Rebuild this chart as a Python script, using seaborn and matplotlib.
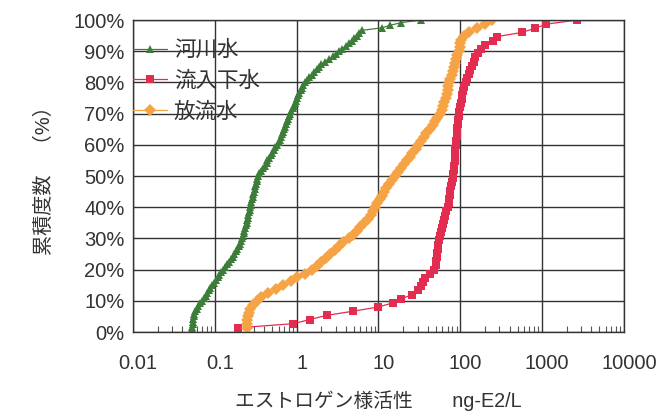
import numpy as np
import pandas as pd
import matplotlib
matplotlib.use("Agg")
import matplotlib.pyplot as plt
import matplotlib.transforms as mtransforms
from matplotlib.ticker import LogLocator, FuncFormatter, NullFormatter
import seaborn as sns

# sorted concentrations (ng-E2/L)
river = [0.052, 0.053, 0.054, 0.054, 0.054, 0.055, 0.056, 0.057, 0.060, 0.063,
         0.066, 0.069, 0.073, 0.077, 0.080, 0.084, 0.088, 0.092, 0.097, 0.102,
         0.108, 0.114, 0.120, 0.126, 0.134, 0.142, 0.150, 0.158, 0.165, 0.172,
         0.180, 0.187, 0.195, 0.202, 0.209, 0.215, 0.220, 0.225, 0.230, 0.235,
         0.240, 0.245, 0.249, 0.253, 0.257, 0.261, 0.266, 0.270, 0.275, 0.280,
         0.285, 0.290, 0.295, 0.300, 0.306, 0.312, 0.318, 0.324, 0.330, 0.337,
         0.35, 0.37, 0.39, 0.41, 0.43, 0.44, 0.46, 0.48, 0.50, 0.53,
         0.55, 0.575, 0.60, 0.62, 0.64, 0.66, 0.68, 0.70, 0.72, 0.74,
         0.76, 0.78, 0.81, 0.83, 0.86, 0.89, 0.92, 0.95, 0.98, 1.00,
         1.04, 1.08, 1.12, 1.16, 1.21, 1.26, 1.33, 1.42, 1.52, 1.62,
         1.75, 1.88, 2.0, 2.2, 2.5, 2.8, 3.0, 3.3, 3.6, 4.0,
         4.4, 4.7, 5.0, 5.4, 5.8, 6.2, 11, 14, 19, 33]

inflow = [0.19, 0.91, 1.45, 2.33, 4.9, 9.9, 15, 19, 26, 30,
          33, 35, 37, 42, 48, 50, 51, 51.5, 52, 53,
          54, 55.5, 57, 58.5, 60, 62, 63.5, 65, 67, 70,
          72, 73, 74, 75, 77, 79, 81, 82, 83, 84,
          85, 85.5, 86, 87, 88, 89, 90, 91, 92, 93,
          94, 95, 97, 99, 101, 104, 106, 108, 112, 117,
          122, 127, 133, 140, 146, 153, 165, 178, 200, 250,
          280, 560, 820, 1120, 2700]

effluent = [0.245, 0.247, 0.25, 0.255, 0.26, 0.267, 0.29, 0.33, 0.37, 0.45,
            0.56, 0.68, 0.85, 1.02, 1.25, 1.55, 1.75, 2.0, 2.3, 2.55,
            2.9, 3.25, 3.7, 4.3, 4.9, 5.4, 5.9, 6.6, 7.4, 8.0,
            8.6, 9.1, 9.7, 10.4, 11.1, 11.8, 12.5, 13.5, 14.7, 15.8,
            17.2, 19.0, 20.5, 22, 24, 26, 28.5, 30.5, 33, 35.5,
            38, 42, 46, 49, 52, 56, 59, 62, 64, 66,
            68, 70, 71.5, 73, 75, 78, 81, 84, 87, 89,
            92, 95, 98, 100, 102, 110, 128, 160, 200, 245]

series_names = ["河川水", "流入下水", "放流水"]
series_values = [river, inflow, effluent]
x_ticks = [0.01, 0.1, 1, 10, 100, 1000, 10000]
y_ticks = [0, 10, 20, 30, 40, 50, 60, 70, 80, 90, 100]

frames = []
for name, vals in zip(series_names, series_values):
    n = len(vals)
    frames.append(pd.DataFrame({
        "活性": vals,
        "累積度数": np.arange(1, n + 1) / n * 100,
        "地点": name,
    }))
df = pd.concat(frames, ignore_index=True)

sns.set_theme(style="white")
plt.rcParams["font.family"] = ["Liberation Sans", "Noto Sans CJK JP", "DejaVu Sans"]

palette = {"河川水": "#3d7d3a", "流入下水": "#e22c50", "放流水": "#f6a345"}
markers = {"河川水": "^", "流入下水": "s", "放流水": "D"}
txt = "#333333"

fig = plt.figure(figsize=(6.72, 4.12), dpi=100)
ax = fig.add_axes([133 / 672, 1 - 332 / 412, (624 - 133) / 672, (332 - 20) / 412])

sns.lineplot(data=df, x="活性", y="累積度数", hue="地点", style="地点",
             hue_order=series_names, style_order=series_names,
             palette=palette, markers=markers, dashes=False,
             estimator=None, sort=False, linewidth=0.9,
             markersize=5.8, markeredgewidth=0, ax=ax)

ax.set_xscale("log")
ax.set_xlim(0.01, 10000)
ax.set_ylim(0, 100)
ax.set_xticks(x_ticks)
ax.set_yticks(y_ticks)
ax.xaxis.set_major_formatter(FuncFormatter(lambda v, p: f"{v:g}"))
ax.yaxis.set_major_formatter(FuncFormatter(lambda v, p: f"{v:.0f}%"))
ax.xaxis.set_minor_locator(LogLocator(base=10, subs=np.arange(2, 10)))
ax.xaxis.set_minor_formatter(NullFormatter())

ax.grid(True, which="major", color="#333333", linewidth=1.0)
ax.tick_params(axis="both", which="major", length=0, labelsize=14.5, colors=txt)
ax.tick_params(axis="x", which="major", pad=16)
ax.tick_params(axis="y", which="major", pad=6)
ax.tick_params(axis="x", which="minor", direction="in", length=4, width=0.8,
               color="#555555", bottom=True, top=False)
for s in ax.spines.values():
    s.set_color("#333333")
    s.set_linewidth(1.0)

# x tick labels sit a little right of their gridlines in the original
shift = mtransforms.ScaledTranslation(0.05, 0, fig.dpi_scale_trans)
for lab in ax.get_xticklabels():
    lab.set_transform(lab.get_transform() + shift)

ax.set_xlabel("エストロゲン様活性　　ng-E2/L", fontsize=14.2, color=txt, labelpad=12)
ax.set_ylabel("累積度数　（%）", fontsize=14.5, color=txt, labelpad=14)

handles, labels = ax.get_legend_handles_labels()
ax.legend(handles, labels, loc="upper left", bbox_to_anchor=(0.0, 0.935),
          frameon=False, fontsize=15.5, handlelength=1.6, handletextpad=0.3,
          labelspacing=0.45, borderaxespad=0, borderpad=0, labelcolor=txt)

fig.savefig("out.png", dpi=100, facecolor="white")
